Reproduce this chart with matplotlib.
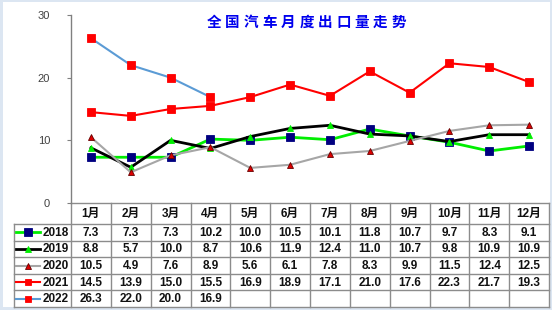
import matplotlib
matplotlib.use('Agg')
import matplotlib.pyplot as plt
from matplotlib.patches import Rectangle

months = ['1月', '2月', '3月', '4月', '5月', '6月', '7月', '8月', '9月', '10月', '11月', '12月']
years = ['2018', '2019', '2020', '2021', '2022']
v2018 = [7.3, 7.3, 7.3, 10.2, 10.0, 10.5, 10.1, 11.8, 10.7, 9.7, 8.3, 9.1]
v2019 = [8.8, 5.7, 10.0, 8.7, 10.6, 11.9, 12.4, 11.0, 10.7, 9.8, 10.9, 10.9]
v2020 = [10.5, 4.9, 7.6, 8.9, 5.6, 6.1, 7.8, 8.3, 9.9, 11.5, 12.4, 12.5]
v2021 = [14.5, 13.9, 15.0, 15.5, 16.9, 18.9, 17.1, 21.0, 17.6, 22.3, 21.7, 19.3]
v2022 = [26.3, 22.0, 20.0, 16.9]
yticks = [0, 10, 20, 30]
title = '全国汽车月度出口量走势'

series = [v2018, v2019, v2020, v2021, v2022]
styles = [
    dict(color='#00ee00', lw=2.0, marker='s', mfc='#000080', mec='#000080', ms=6.0),
    dict(color='#000000', lw=2.0, marker='^', mfc='#00ee00', mec='#00ee00', ms=5.0),
    dict(color='#a6a6a6', lw=1.5, marker='^', mfc='#dd0000', mec='#660000', ms=5.0),
    dict(color='#ff0000', lw=1.5, marker='s', mfc='#ff0000', mec='#ff0000', ms=5.5),
    dict(color='#5b9bd5', lw=1.5, marker='s', mfc='#ff0000', mec='#ff0000', ms=5.5),
]

W, H = 552, 310
fig = plt.figure(figsize=(W / 100, H / 100), dpi=100, facecolor='#dce6f2')
bg = fig.add_axes([0, 0, 1, 1])
bg.set_xlim(0, W)
bg.set_ylim(H, 0)
bg.axis('off')
bg.add_patch(Rectangle((3, 2), W - 5, H - 5, facecolor='white', edgecolor='none'))

x0, x1 = 71, 549
ytop, ybot = 15, 203
ax = fig.add_axes([x0 / W, 1 - ybot / H, (x1 - x0) / W, (ybot - ytop) / H])
ax.set_facecolor('none')
ax.set_xlim(-0.5, len(months) - 0.5)
ax.set_ylim(0, 30)
for s in ['top', 'right', 'bottom']:
    ax.spines[s].set_visible(False)
ax.spines['left'].set_color('#808080')
ax.spines['left'].set_linewidth(1.0)
ax.set_xticks([])
ax.set_yticks(yticks)
ax.tick_params(axis='y', direction='out', length=3, width=0.8, color='#808080',
               labelsize=8, labelcolor='#404040', pad=12)
for lab in ax.get_yticklabels():
    lab.set_family(['Liberation Sans', 'DejaVu Sans'])

for vals, st in zip(series, styles):
    ax.plot(range(len(vals)), vals, color=st['color'], lw=st['lw'], marker=st['marker'],
            markerfacecolor=st['mfc'], markeredgecolor=st['mec'], markersize=st['ms'],
            markeredgewidth=0.6, clip_on=False)

# title, with wide character spacing
pitch = 18.5
tcx = 306.5
n = len(title)
for i, ch in enumerate(title):
    bg.text(tcx + (i - (n - 1) / 2) * pitch, 22, ch, ha='center', va='center',
            fontsize=10.5, color='#0000ee', fontweight='bold',
            family=['Noto Sans CJK SC', 'DejaVu Sans'])

# table
gc = '#8c8c8c'
ncol = len(months)
cw = (x1 - x0) / ncol
hy0, hy1 = 203, 224
rh = (307 - hy1) / len(years)
lx = 14
tfont = ['Liberation Sans', 'Noto Sans CJK SC']
tcol = '#111111'

bg.plot([x0, x1], [hy0, hy0], color=gc, lw=1)
for k in range(len(years) + 1):
    yy = hy1 + k * rh
    bg.plot([lx, x1], [yy, yy], color=gc, lw=1)
for i in range(ncol + 1):
    xx = x0 + i * cw
    bg.plot([xx, xx], [hy0, 307], color=gc, lw=1)
bg.plot([lx, lx], [hy1, 307], color=gc, lw=1)

for i, m in enumerate(months):
    bg.text(x0 + (i + 0.5) * cw, (hy0 + hy1) / 2 + 0.5, m, ha='center', va='center',
            fontsize=8.5, color=tcol, family=tfont, fontweight='bold')

for k, (yr, vals, st) in enumerate(zip(years, series, styles)):
    yc = hy1 + (k + 0.5) * rh
    bg.plot([16, 40], [yc, yc], color=st['color'], lw=st['lw'])
    bg.plot([28], [yc], marker=st['marker'], markerfacecolor=st['mfc'],
            markeredgecolor=st['mec'], markersize=st['ms'] * 0.9, markeredgewidth=0.6)
    bg.text(69, yc + 0.5, yr, ha='right', va='center', fontsize=8.5, color=tcol,
            family=tfont, fontweight='bold')
    for i, v in enumerate(vals):
        bg.text(x0 + (i + 0.5) * cw, yc + 0.5, f'{v:.1f}', ha='center', va='center',
                fontsize=8.5, color=tcol, family=tfont, fontweight='bold')

fig.savefig('out.png', dpi=100, facecolor=fig.get_facecolor())
